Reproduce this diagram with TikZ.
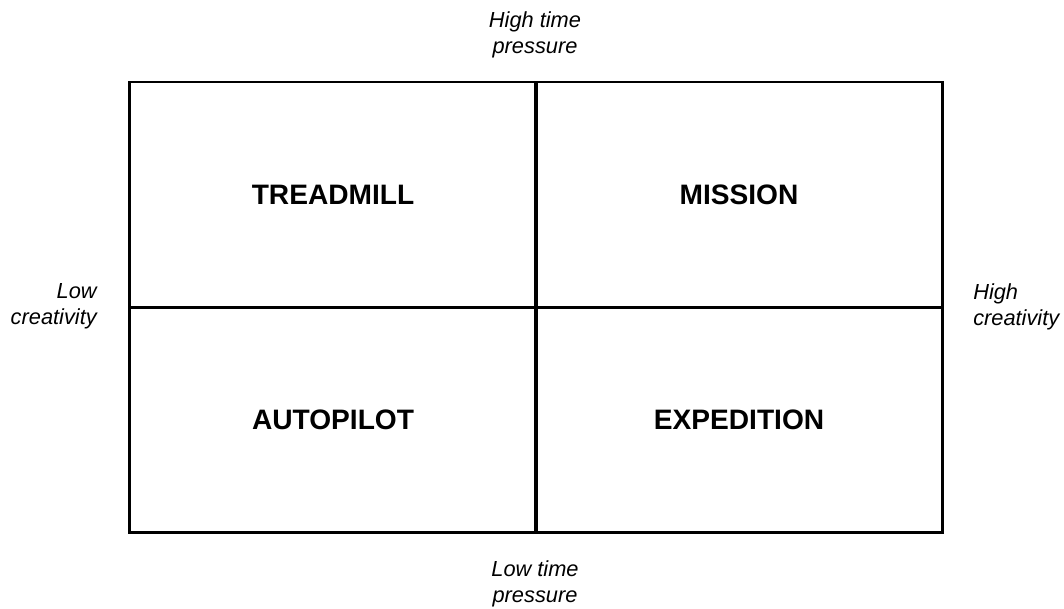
\documentclass[tikz,border=0pt]{standalone}
\usepackage{fontspec}
\setmainfont{Liberation Sans}
\usetikzlibrary{positioning}
\tikzset{
  quadrant/.style={
    draw,
    line width=2.1pt,
    minimum width=10.15cm,
    minimum height=5.625cm,
    inner sep=0pt,
    font=\bfseries\fontsize{20}{24}\selectfont
  },
  axislabel/.style={
    inner sep=0pt,
    font=\itshape\fontsize{15.5}{18.5}\selectfont
  }
}

\begin{document}
\begin{tikzpicture}[x=0.025cm,y=-0.025cm]
  \useasboundingbox (0,0) rectangle (1064,608);
  % the four fields of the matrix
  \node[quadrant] (tl) at (333,194.5) {TREADMILL};
  \node[quadrant] (tr) at (739,194.5) {MISSION};
  \node[quadrant] (bl) at (333,419.5) {AUTOPILOT};
  \node[quadrant] (br) at (739,419.5) {EXPEDITION};
  % axis ends
  \node[axislabel,align=center] (hi) at (535,35) {High time\\pressure};
  \node[axislabel,align=center] (lo) at (535,584) {Low time\\pressure};
  \node[axislabel,align=right,anchor=east] (left) at (97,306) {Low\\creativity};
  \node[axislabel,align=left,anchor=west] (right) at (973,307) {High\\creativity};
\end{tikzpicture}
\end{document}
